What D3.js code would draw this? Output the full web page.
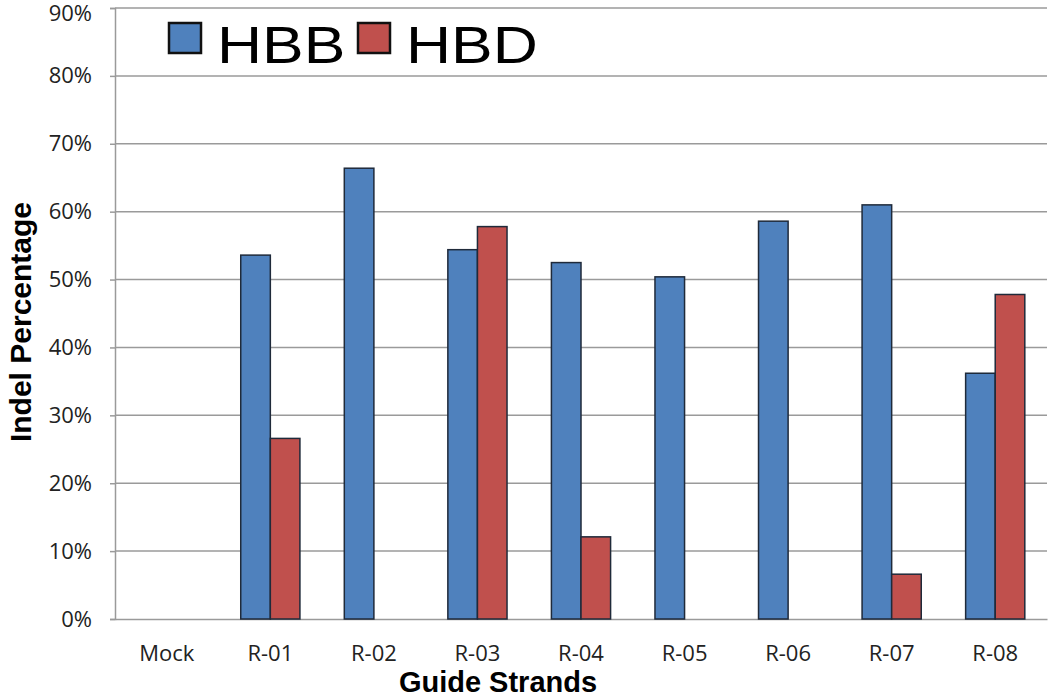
<!DOCTYPE html>
<html>
<head>
<meta charset="utf-8">
<script src="https://cdn.jsdelivr.net/npm/d3@7"></script>
<style>
  body { margin: 0; background: #fff; }
  svg { display: block; }
</style>
</head>
<body>
<div id="chart"></div>
<script>
(function() {
  var categories = ['Mock', 'R-01', 'R-02', 'R-03', 'R-04', 'R-05', 'R-06', 'R-07', 'R-08'];
  var seriesNames = ['HBB', 'HBD'];
  var hbbValues = [0, 53.6, 66.4, 54.4, 52.5, 50.4, 58.6, 61.0, 36.2];
  var hbdValues = [0, 26.6, 0, 57.8, 12.1, 0, 0, 6.6, 47.8];
  var yTicks = [0, 10, 20, 30, 40, 50, 60, 70, 80, 90];
  var colors = ['#4f81bd', '#c0504d'];

  var width = 1050;
  var height = 698;
  var margin = { top: 8, right: 3, bottom: 79, left: 115 };
  var innerW = width - margin.left - margin.right;
  var innerH = height - margin.top - margin.bottom;
  var tickFont = '"Open Sans", "DejaVu Sans", sans-serif';
  var titleFont = '"Liberation Sans", Arial, sans-serif';

  var svg = d3.select('#chart').append('svg')
    .attr('width', width)
    .attr('height', height);

  var g = svg.append('g').attr('transform', 'translate(' + margin.left + ',' + margin.top + ')');

  // Excel style: gap width 150%
  var x = d3.scaleBand().domain(categories).range([0, innerW]).paddingInner(0.4286).paddingOuter(0.2143);
  var xSub = d3.scaleBand().domain(seriesNames).range([0, x.bandwidth()]);
  var y = d3.scaleLinear().domain([0, 90]).range([innerH, 0]);

  // gridlines
  g.selectAll('.grid')
    .data(yTicks.slice(1))
    .enter()
    .append('line')
    .attr('class', 'grid')
    .attr('x1', 0)
    .attr('x2', innerW)
    .attr('y1', function(d) { return y(d); })
    .attr('y2', function(d) { return y(d); })
    .attr('stroke', '#9a9a9a')
    .attr('stroke-width', 1.5);

  // y axis
  var yAxis = g.append('g')
    .call(d3.axisLeft(y).tickValues(yTicks).tickSize(5).tickPadding(18).tickFormat(function(d) { return d + '%'; }));
  yAxis.select('.domain').attr('stroke', '#9a9a9a').attr('stroke-width', 1.5);
  yAxis.selectAll('.tick line').attr('stroke', '#9a9a9a').attr('stroke-width', 1.5);
  yAxis.selectAll('.tick text')
    .attr('font-family', tickFont)
    .attr('font-size', 22)
    .attr('fill', '#222')
    .attr('dy', function(d) { return d === 90 ? '0.55em' : '0.32em'; });

  // x axis
  var xAxis = g.append('g')
    .attr('transform', 'translate(0,' + innerH + ')')
    .call(d3.axisBottom(x).tickSize(0).tickPadding(26));
  xAxis.select('.domain').attr('stroke', '#9a9a9a').attr('stroke-width', 1.5);
  xAxis.selectAll('.tick text')
    .attr('font-family', tickFont)
    .attr('font-size', 22)
    .attr('fill', '#222');

  // bars
  var rows = categories.map(function(c, i) {
    return { category: c, values: [hbbValues[i], hbdValues[i]] };
  });

  var groups = g.selectAll('.cat')
    .data(rows)
    .enter()
    .append('g')
    .attr('class', 'cat')
    .attr('transform', function(d) { return 'translate(' + x(d.category) + ',0)'; });

  groups.selectAll('rect')
    .data(function(d) {
      return d.values.map(function(v, i) { return { name: seriesNames[i], value: v, index: i }; })
        .filter(function(s) { return s.value > 0; });
    })
    .enter()
    .append('rect')
    .attr('x', function(d) { return xSub(d.name); })
    .attr('width', xSub.bandwidth())
    .attr('y', function(d) { return y(d.value); })
    .attr('height', function(d) { return y(0) - y(d.value); })
    .attr('fill', function(d) { return colors[d.index]; })
    .attr('stroke', '#1f2a3a')
    .attr('stroke-width', 1.5);

  // legend
  var legend = svg.append('g').attr('transform', 'translate(169,23)');
  var legendItems = legend.selectAll('.legend')
    .data(seriesNames)
    .enter()
    .append('g')
    .attr('class', 'legend')
    .attr('transform', function(d, i) { return 'translate(' + (i * 189) + ',0)'; });

  legendItems.append('rect')
    .attr('width', 32)
    .attr('height', 30)
    .attr('fill', function(d, i) { return colors[i]; })
    .attr('stroke', '#111')
    .attr('stroke-width', 2.5);

  legendItems.append('text')
    .attr('transform', 'translate(48,40) scale(1.2,1)')
    .attr('font-family', titleFont)
    .attr('font-size', 52)
    .attr('fill', '#000')
    .text(function(d) { return d; });

  // axis titles
  svg.append('text')
    .attr('transform', 'translate(31,322) rotate(-90)')
    .attr('text-anchor', 'middle')
    .attr('font-family', titleFont)
    .attr('font-weight', 'bold')
    .attr('font-size', 30)
    .text('Indel Percentage');

  svg.append('text')
    .attr('x', 498)
    .attr('y', 692)
    .attr('text-anchor', 'middle')
    .attr('font-family', titleFont)
    .attr('font-weight', 'bold')
    .attr('font-size', 29)
    .text('Guide Strands');
})();
</script>
</body>
</html>
